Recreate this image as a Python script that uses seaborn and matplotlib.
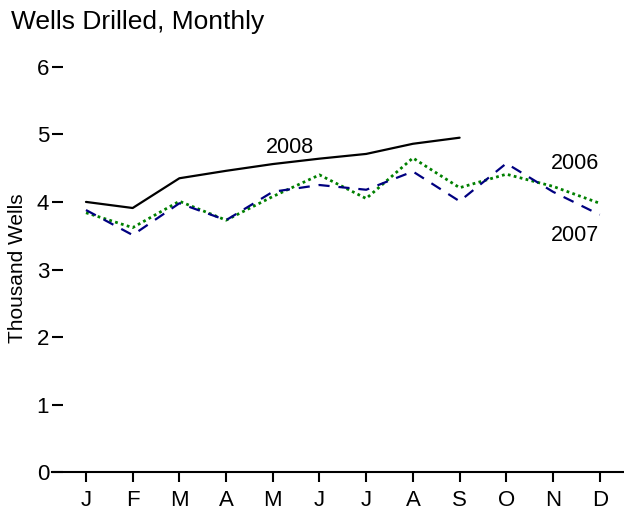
# Wells drilled per month, one line per year

import matplotlib
matplotlib.use("Agg")
import matplotlib.pyplot as plt
import seaborn as sns

months = ["J", "F", "M", "A", "M", "J", "J", "A", "S", "O", "N", "D"]
wells_2006 = [3.84, 3.62, 4.01, 3.73, 4.08, 4.40, 4.05, 4.65, 4.21, 4.41, 4.23, 3.98]
wells_2007 = [3.88, 3.51, 3.98, 3.73, 4.15, 4.25, 4.18, 4.45, 4.01, 4.57, 4.15, 3.81]
wells_2008 = [4.00, 3.91, 4.35, 4.46, 4.56, 4.64, 4.71, 4.86, 4.95]
y_ticks = [0, 1, 2, 3, 4, 5, 6]

sns.set_theme(style="white")
plt.rcParams["font.family"] = ["Liberation Sans", "DejaVu Sans"]
plt.rcParams["text.color"] = "black"
plt.rcParams["axes.labelcolor"] = "black"

fig = plt.figure(figsize=(6.24, 5.12), dpi=100)
ax = fig.add_axes([0.0833, 0.0775, 0.9167, 0.8318])

idx = list(range(len(months)))
sns.lineplot(x=idx, y=wells_2006, ax=ax, color="#008000", lw=2.0,
             linestyle=(0, (1, 1.2)))
sns.lineplot(x=idx, y=wells_2007, ax=ax, color="#000080", lw=1.6,
             linestyle=(0, (5, 4)))
sns.lineplot(x=idx[:len(wells_2008)], y=wells_2008, ax=ax, color="black", lw=1.6)

# series labels next to the lines
ax.text(4.37, 4.80, "2008", fontsize=15.5, ha="center", va="center")
ax.text(10.47, 4.57, "2006", fontsize=15.5, ha="center", va="center")
ax.text(10.47, 3.51, "2007", fontsize=15.5, ha="center", va="center")

ax.set_xlim(-0.728, 11.52)
ax.set_ylim(0, 6.3)
ax.set_xticks(idx)
ax.set_xticklabels(months)
ax.set_yticks(y_ticks)

for s in ["top", "right", "left"]:
    ax.spines[s].set_visible(False)
ax.spines["bottom"].set_linewidth(1.5)
ax.spines["bottom"].set_color("black")

ax.tick_params(axis="y", direction="in", length=8, width=1.5, pad=2,
               labelsize=16, colors="black", left=True)
ax.tick_params(axis="x", direction="out", length=7, width=1.5, pad=6,
               labelsize=16, colors="black", bottom=True)

ax.set_ylabel("Thousand Wells", fontsize=15)
ax.yaxis.set_label_coords(-0.043, 0.48)
fig.text(0.018, 0.9428, "Wells Drilled, Monthly", fontsize=19, va="baseline")

fig.savefig("out.png", dpi=100)
